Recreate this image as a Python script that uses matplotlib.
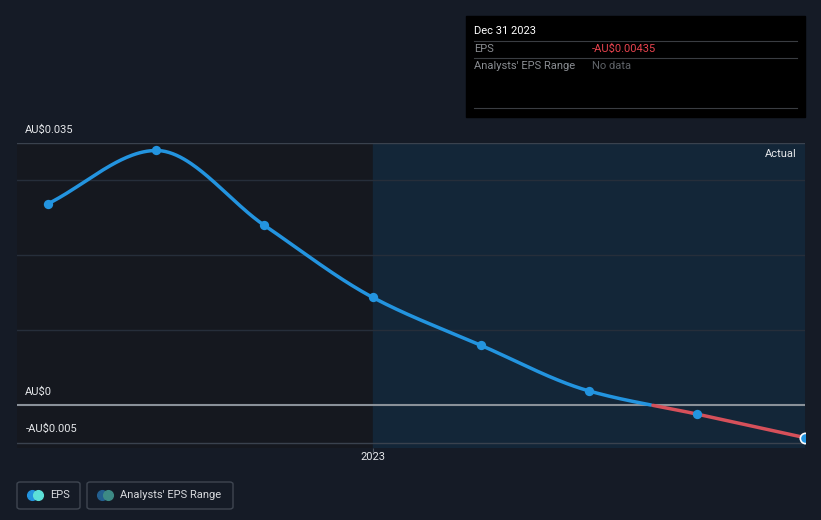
import numpy as np
import matplotlib.pyplot as plt
from matplotlib.patches import Rectangle, FancyBboxPatch

# quarterly EPS (AU$)
periods = ['Mar 2022', 'Jun 2022', 'Sep 2022', 'Dec 2022',
           'Mar 2023', 'Jun 2023', 'Sep 2023', 'Dec 2023']
eps = [0.0269, 0.0340, 0.0240, 0.0144, 0.0080, 0.0019, -0.0012, -0.00435]
ytick_vals = [0.035, 0.0, -0.005]
ytick_labels = ['AU$0.035', 'AU$0', '-AU$0.005']
grid_vals = [0.03, 0.02, 0.01]

bg = '#151b26'
blue = '#2394df'
red = '#d6505a'

fig = plt.figure(figsize=(8.21, 5.2), dpi=100, facecolor=bg)
W, H = 821, 520
ax = fig.add_axes([17 / W, 1 - 448 / H, (805 - 17) / W, (448 - 143) / H])
ax.set_facecolor(bg)

x = np.arange(len(eps), dtype=float)
y = np.array(eps)
ax.set_xlim(-0.288, 7)
ax.set_ylim(-0.00573, 0.035)

# shaded regions: past (darker) and the 2023 "Actual" window
ax.axvspan(-0.288, 3, color='#15181f', zorder=0)
ax.axvspan(3, 7, color='#132638', zorder=0)

for g in grid_vals:
    ax.axhline(g, color='#262e3a', lw=1, zorder=1)
ax.axhline(0.035, color='#3a424e', lw=1, zorder=1)
ax.axhline(-0.005, color='#3a424e', lw=1, zorder=1)
ax.axhline(0, color='#8a9199', lw=1.5, zorder=2)

# monotone cubic (Fritsch-Carlson) to draw a smooth line through the points
d = np.diff(y) / np.diff(x)
m = np.zeros_like(y)
m[0], m[-1] = d[0], d[-1]
for i in range(1, len(y) - 1):
    if d[i - 1] * d[i] > 0:
        m[i] = 2 / (1 / d[i - 1] + 1 / d[i])
xs, ys = [], []
for i in range(len(y) - 1):
    t = np.linspace(0, 1, 60)
    h = x[i + 1] - x[i]
    h00 = 2 * t**3 - 3 * t**2 + 1
    h10 = t**3 - 2 * t**2 + t
    h01 = -2 * t**3 + 3 * t**2
    h11 = t**3 - t**2
    xs.append(x[i] + t * h)
    ys.append(h00 * y[i] + h10 * h * m[i] + h01 * y[i + 1] + h11 * h * m[i + 1])
xs = np.concatenate(xs)
ys = np.concatenate(ys)

pos = np.ma.masked_where(ys < 0, ys)
neg = np.ma.masked_where(ys > 0, ys)
ax.plot(xs, pos, color=blue, lw=2.5, zorder=3, solid_capstyle='round')
ax.plot(xs, neg, color=red, lw=2.5, zorder=3, solid_capstyle='round')
ax.scatter(x[:-1], y[:-1], s=45, color=blue, zorder=4, linewidths=0)
ax.scatter(x[-1:], y[-1:], s=55, color=blue, edgecolors='white', linewidths=1.2,
           zorder=5)

for v, lab in zip(ytick_vals, ytick_labels):
    ax.annotate(lab, (0, v), xycoords=('axes fraction', 'data'),
                xytext=(6, 6), textcoords='offset points', color='#e6e8eb',
                fontsize=8, ha='left', va='bottom', family='Roboto')

ax.text(0.99, 0.98, 'Actual', transform=ax.transAxes, color='#e6e8eb',
        fontsize=8, ha='right', va='top', family='Roboto')

ax.set_xticks([3])
ax.set_xticklabels(['2023'], color='#e6e8eb', fontsize=8, family='Roboto')
ax.tick_params(axis='x', length=3, color='#4a525e', pad=0)
ax.set_yticks([])
for s in ax.spines.values():
    s.set_visible(False)

# tooltip box
fig.patches.append(Rectangle((466 / W, 1 - 117 / H), 339 / W, 101 / H,
                             transform=fig.transFigure, color='#000000', zorder=10))
for yy in (41, 58, 108):
    fig.add_artist(plt.Line2D([474 / W, 797 / W], [1 - yy / H] * 2,
                              transform=fig.transFigure, color='#3a3d42', lw=0.8, zorder=11))
fig.text(474 / W, 1 - 31 / H, 'Dec 31 2023', color='white', fontsize=8,
         va='center', family='Roboto', zorder=12)
fig.text(474 / W, 1 - 49 / H, 'EPS', color='#8a8d92', fontsize=8,
         va='center', family='Roboto', zorder=12)
fig.text(592 / W, 1 - 49 / H, '-AU$0.00435', color='#e8434e', fontsize=8,
         va='center', family='Roboto', zorder=12)
fig.text(474 / W, 1 - 66 / H, "Analysts' EPS Range", color='#8a8d92', fontsize=8,
         va='center', family='Roboto', zorder=12)
fig.text(592 / W, 1 - 66 / H, 'No data', color='#5f6368', fontsize=8,
         va='center', family='Roboto', zorder=12)

# legend buttons
for x0, x1, lab, c1, c2 in [(17, 80, 'EPS', '#2394df', '#5ce0d8'),
                            (87, 233, "Analysts' EPS Range", '#235f8f', '#3d8a85')]:
    fig.patches.append(FancyBboxPatch((x0 / W, 1 - 509 / H), (x1 - x0) / W, 27 / H,
                                      boxstyle='round,pad=0,rounding_size=0.004',
                                      transform=fig.transFigure, facecolor='none',
                                      edgecolor='#3f4651', lw=1))
    fig.add_artist(plt.Line2D([(x0 + 15) / W], [1 - 495 / H], marker='o', ms=7,
                              color=c1, transform=fig.transFigure, lw=0))
    fig.add_artist(plt.Line2D([(x0 + 21) / W], [1 - 495 / H], marker='o', ms=7,
                              color=c2, transform=fig.transFigure, lw=0))
    fig.text((x0 + 33) / W, 1 - 495 / H, lab, color='#d8dade', fontsize=8,
             va='center', family='Roboto')

fig.savefig('out.png', dpi=100, facecolor=bg)
